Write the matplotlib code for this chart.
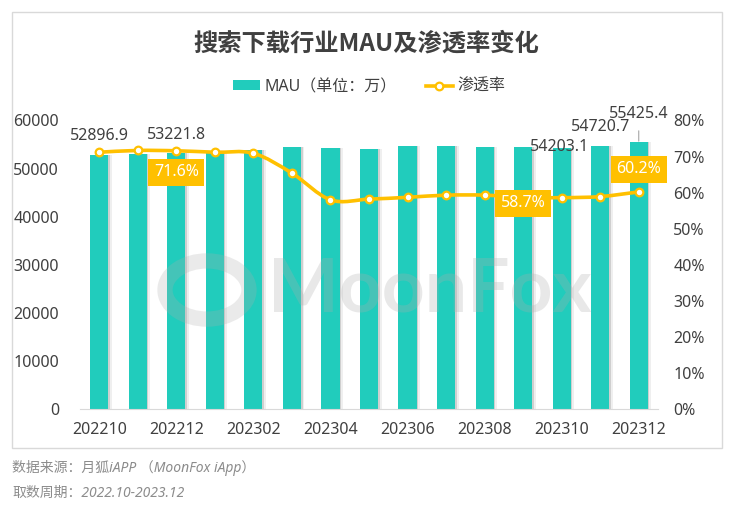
import matplotlib
matplotlib.use("Agg")
import matplotlib.pyplot as plt
from matplotlib.path import Path
from matplotlib.patches import PathPatch, Patch, Circle
from matplotlib.lines import Line2D
import numpy as np

plt.rcParams['font.family'] = ['Noto Sans', 'Noto Sans CJK SC', 'DejaVu Sans']

# ---------------- data ----------------
months = ['202210', '202211', '202212', '202301', '202302', '202303', '202304',
          '202305', '202306', '202307', '202308', '202309', '202310', '202311', '202312']
mau = [52896.9, 53100, 53221.8, 53400, 53800, 54400, 54200, 54000, 54600,
       54600, 54500, 54400, 54203.1, 54720.7, 55425.4]
penetration = [71.2, 71.7, 71.6, 71.2, 70.9, 65.4, 58.0, 58.2, 58.7, 59.3,
               59.3, 58.7, 58.6, 58.9, 60.2]
mau_label_idx = [0, 2, 12, 13, 14]
pen_label_idx = [2, 11, 14]
left_ticks = [0, 10000, 20000, 30000, 40000, 50000, 60000]
right_ticks = [0, 10, 20, 30, 40, 50, 60, 70, 80]

title = '搜索下载行业MAU及渗透率变化'
legend_bar = 'MAU（单位：万）'
legend_line = '渗透率'
footer1 = '数据来源：月狐iAPP （MoonFox iApp）'
footer2 = '取数周期：2022.10-2023.12'

# ---------------- style ----------------
TEAL = '#21CCBC'
GOLD = '#FFC000'
TXT = '#404040'
W, H = 738, 511

fig = plt.figure(figsize=(W / 100, H / 100), dpi=100)
fig.patch.set_facecolor('white')

# outer border
fig.patches.append(plt.Rectangle((12 / W, 1 - 448 / H), (722 - 12) / W, (448 - 12) / H,
                                 transform=fig.transFigure, fill=False,
                                 edgecolor='#D9D9D9', linewidth=1.0))

ax = fig.add_axes([80 / W, 1 - 409 / H, (658 - 80) / W, (409 - 120.5) / H])
ax2 = ax.twinx()
ax.set_zorder(1)
ax2.set_zorder(2)
ax.patch.set_visible(False)
ax2.patch.set_visible(False)

x = np.arange(len(months))
bw = 0.47
# shadows
ax.bar(x + 0.04, mau, width=bw, color='#7f7f7f', alpha=0.28, zorder=1, linewidth=0)
ax.bar(x + 0.09, mau, width=bw, color='#7f7f7f', alpha=0.12, zorder=1, linewidth=0)
ax.bar(x, mau, width=bw, color=TEAL, zorder=2, linewidth=0)

ax.set_xlim(-0.5, len(months) - 0.5)
ax.set_ylim(0, 60000)
ax.set_yticks(left_ticks)
ax.set_yticklabels([str(v) for v in left_ticks])
ax.set_xticks(x[::2])
ax.set_xticklabels(months[::2])
for s in ['top', 'left', 'right']:
    ax.spines[s].set_visible(False)
ax.spines['bottom'].set_color('#D9D9D9')
ax.tick_params(axis='y', length=0, pad=15, labelsize=11.5, labelcolor=TXT)
ax.tick_params(axis='x', length=0, pad=9, labelsize=11.5, labelcolor=TXT)

ax2.set_ylim(0, 80)
ax2.set_yticks(right_ticks)
ax2.set_yticklabels([f'{v}%' for v in right_ticks])
for s in ax2.spines.values():
    s.set_visible(False)
ax2.tick_params(axis='y', length=0, pad=11, labelsize=11.5, labelcolor=TXT)

# smoothed line (bezier through data points)
pts = np.column_stack([x, penetration]).astype(float)
verts = [tuple(pts[0])]
codes = [Path.MOVETO]
n = len(pts)
for i in range(n - 1):
    p0 = pts[i - 1] if i > 0 else pts[i]
    p1 = pts[i]
    p2 = pts[i + 1]
    p3 = pts[i + 2] if i + 2 < n else pts[i + 1]
    c1 = p1 + (p2 - p0) / 6.0
    c2 = p2 - (p3 - p1) / 6.0
    verts += [tuple(c1), tuple(c2), tuple(p2)]
    codes += [Path.CURVE4, Path.CURVE4, Path.CURVE4]
ax2.add_patch(PathPatch(Path(verts, codes), facecolor='none', edgecolor=GOLD,
                        linewidth=2.6, zorder=3, capstyle='round'))
ax2.plot(x, penetration, linestyle='none', marker='o', markersize=5.5,
         markerfacecolor='white', markeredgecolor=GOLD, markeredgewidth=1.6, zorder=4)

# MAU labels
mau_offsets = {0: (0, 19), 2: (0, 18), 12: (-2, 1), 13: (0, 19), 14: (0, 28)}
for i in mau_label_idx:
    dx, dy = mau_offsets[i]
    kw = {}
    if i == 14:
        kw['arrowprops'] = dict(arrowstyle='-', color='#A6A6A6', lw=0.8,
                                shrinkA=4, shrinkB=1)
    ax.annotate(f'{mau[i]:.1f}', xy=(x[i], mau[i]), xytext=(dx, dy),
                textcoords='offset pixels', ha='center', va='center',
                fontsize=11.5, color=TXT, zorder=6, **kw)

# penetration labels
pen_offsets = {2: (0, -21.5), 11: (0, -6), 14: (0, 22.5)}
for i in pen_label_idx:
    dx, dy = pen_offsets[i]
    ax2.annotate(f'{penetration[i]:.1f}%', xy=(x[i], penetration[i]), xytext=(dx, dy),
                 textcoords='offset pixels', ha='center', va='center',
                 fontsize=11.5, color='white', zorder=7,
                 bbox=dict(boxstyle='square,pad=0.35', facecolor=GOLD, edgecolor='none'))

# watermark
fig.text(430 / W, 1 - 290 / H, 'MoonFox', fontsize=54, fontweight='bold',
         color='#ADADAD', alpha=0.28, ha='center', va='center', zorder=10,
         family=['Lato', 'DejaVu Sans'])
fig.patches.append(Circle((207 / W, 1 - 290 / H), 42 / W, transform=fig.transFigure,
                          fill=False, edgecolor='#ADADAD', alpha=0.25, linewidth=11,
                          zorder=10))

# title
fig.text(366 / W, 1 - 43 / H, title, fontsize=17.5, fontweight='bold', color=TXT,
         ha='center', va='center', family=['Noto Sans CJK SC', 'DejaVu Sans'])

# legend
handles = [Patch(facecolor=TEAL, edgecolor='none'),
           Line2D([0], [0], color=GOLD, lw=2.6, marker='o', markersize=5.5,
                  markerfacecolor='white', markeredgecolor=GOLD, markeredgewidth=1.6)]
fig.legend(handles, [legend_bar, legend_line], loc='center', ncol=2,
           bbox_to_anchor=(369 / W, 1 - 87 / H), frameon=False, fontsize=11.5,
           handlelength=1.7, handleheight=0.6, handletextpad=0.3, columnspacing=1.8,
           labelcolor=TXT)

# footer
fig.text(12 / W, 1 - 468 / H, footer1, fontsize=10, style='italic', color='#8C8C8C',
         ha='left', va='center')
fig.text(12 / W, 1 - 493 / H, footer2, fontsize=10, style='italic', color='#8C8C8C',
         ha='left', va='center')

fig.savefig('out.png', dpi=100)
